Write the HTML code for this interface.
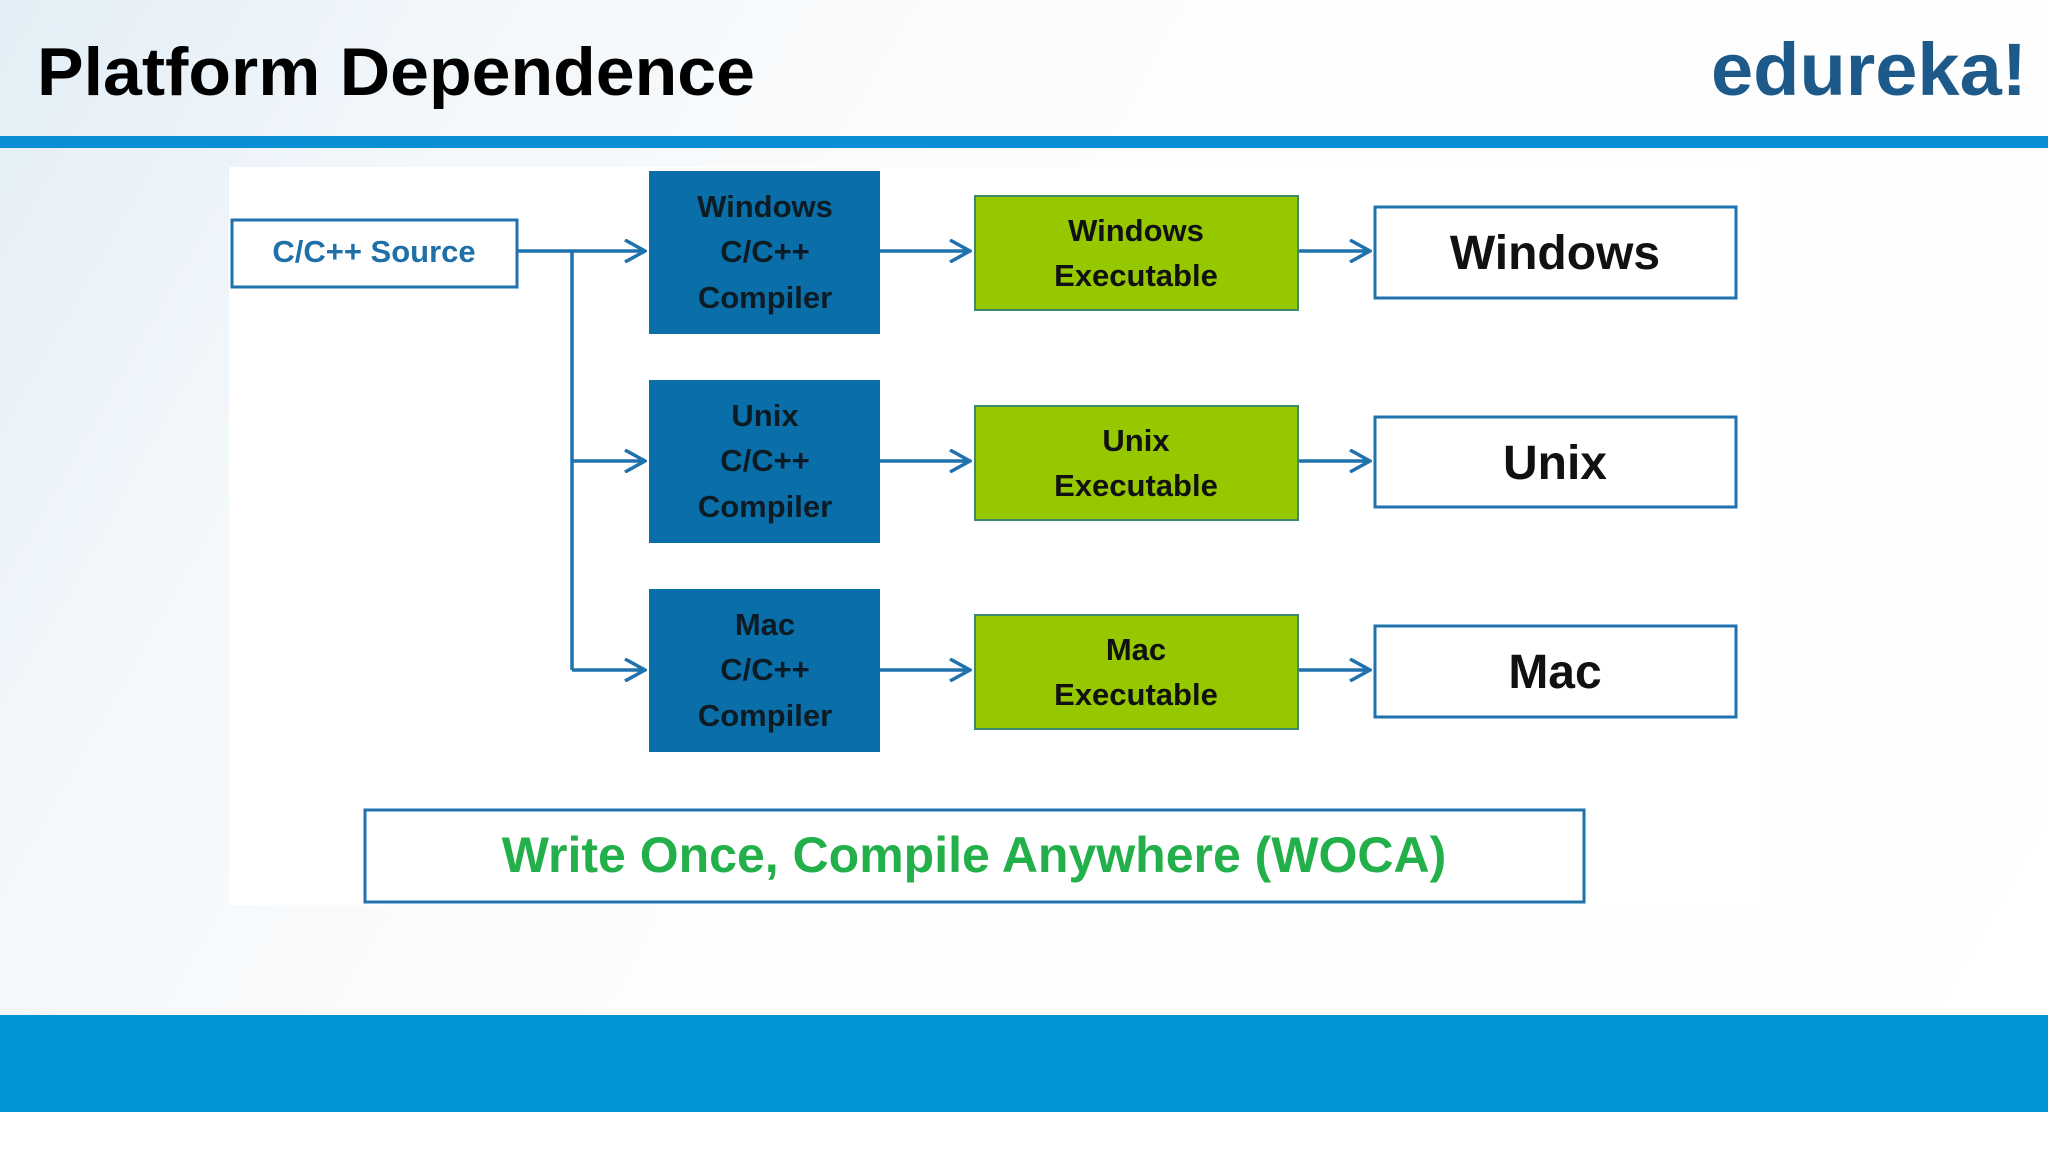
<!DOCTYPE html>
<html><head><meta charset="utf-8"><style>
html,body{margin:0;padding:0;}
body{width:2048px;height:1152px;overflow:hidden;background:linear-gradient(120deg,#e3eef6 0%,#f4f8fb 20%,#fdfdfe 45%,#ffffff 100%);font-family:"Liberation Sans",sans-serif;}
</style></head><body>
<svg width="2048" height="1152" viewBox="0 0 2048 1152" xmlns="http://www.w3.org/2000/svg" style="position:absolute;left:0;top:0">
<defs>
<marker id="b" viewBox="0 0 24 24" refX="22" refY="12" markerWidth="24" markerHeight="24" markerUnits="userSpaceOnUse" orient="auto">
<path d="M2,1 L22,12 L2,23" fill="none" stroke="#1f72ad" stroke-width="3.5"/>
</marker>
</defs>
<text x="37" y="95" font-size="68" font-weight="bold" fill="#000" textLength="718" lengthAdjust="spacingAndGlyphs">Platform Dependence</text>
<text x="1711" y="95" font-size="74" font-weight="bold" fill="#1d5a8a" textLength="316" lengthAdjust="spacingAndGlyphs">edureka!</text>
<rect x="0" y="136" width="2048" height="12" fill="#0a8fd6"/>
<rect x="229" y="167" width="1534" height="738" fill="#fff"/>
<rect x="0" y="1015" width="2048" height="97" fill="#0395d6"/>
<rect x="0" y="1112" width="2048" height="40" fill="#fff"/>

<rect x="232" y="220" width="285" height="67" fill="#fff" stroke="#1f72ad" stroke-width="3"/>
<text x="374" y="262" font-size="31" font-weight="bold" fill="#1f6fa8" text-anchor="middle">C/C++ Source</text>

<g stroke="#1f72ad" stroke-width="3.5" fill="none">
<line x1="517" y1="251" x2="645" y2="251" marker-end="url(#b)"/>
<line x1="572" y1="251" x2="572" y2="670"/>
<line x1="572" y1="461" x2="645" y2="461" marker-end="url(#b)"/>
<line x1="572" y1="670" x2="645" y2="670" marker-end="url(#b)"/>
<line x1="880" y1="251" x2="970" y2="251" marker-end="url(#b)"/>
<line x1="880" y1="461" x2="970" y2="461" marker-end="url(#b)"/>
<line x1="880" y1="670" x2="970" y2="670" marker-end="url(#b)"/>
<line x1="1298" y1="251" x2="1370" y2="251" marker-end="url(#b)"/>
<line x1="1298" y1="461" x2="1370" y2="461" marker-end="url(#b)"/>
<line x1="1298" y1="670" x2="1370" y2="670" marker-end="url(#b)"/>
</g>

<g font-size="31" font-weight="bold" fill="#0d1b24" text-anchor="middle">
<rect x="649" y="171" width="231" height="163" fill="#0a6fa8"/>
<text x="765" y="217">Windows</text><text x="765" y="262">C/C++</text><text x="765" y="308">Compiler</text>
<rect x="649" y="380" width="231" height="163" fill="#0a6fa8"/>
<text x="765" y="426">Unix</text><text x="765" y="471">C/C++</text><text x="765" y="517">Compiler</text>
<rect x="649" y="589" width="231" height="163" fill="#0a6fa8"/>
<text x="765" y="635">Mac</text><text x="765" y="680">C/C++</text><text x="765" y="726">Compiler</text>
</g>

<g font-size="31" font-weight="bold" fill="#111" text-anchor="middle">
<rect x="975" y="196" width="323" height="114" fill="#96c800" stroke="#3d8a6a" stroke-width="2"/>
<text x="1136" y="241">Windows</text><text x="1136" y="286">Executable</text>
<rect x="975" y="406" width="323" height="114" fill="#96c800" stroke="#3d8a6a" stroke-width="2"/>
<text x="1136" y="451">Unix</text><text x="1136" y="496">Executable</text>
<rect x="975" y="615" width="323" height="114" fill="#96c800" stroke="#3d8a6a" stroke-width="2"/>
<text x="1136" y="660">Mac</text><text x="1136" y="705">Executable</text>
</g>

<g font-size="48" font-weight="bold" fill="#111" text-anchor="middle">
<rect x="1375" y="207" width="361" height="91" fill="#fff" stroke="#1f72ad" stroke-width="3"/>
<text x="1555" y="269">Windows</text>
<rect x="1375" y="417" width="361" height="90" fill="#fff" stroke="#1f72ad" stroke-width="3"/>
<text x="1555" y="479">Unix</text>
<rect x="1375" y="626" width="361" height="91" fill="#fff" stroke="#1f72ad" stroke-width="3"/>
<text x="1555" y="688">Mac</text>
</g>

<rect x="365" y="810" width="1219" height="92" fill="#fff" stroke="#1f72ad" stroke-width="3"/>
<text x="974" y="872" font-size="50" font-weight="bold" fill="#23b04a" text-anchor="middle">Write Once, Compile Anywhere (WOCA)</text>
</svg>
</body></html>
